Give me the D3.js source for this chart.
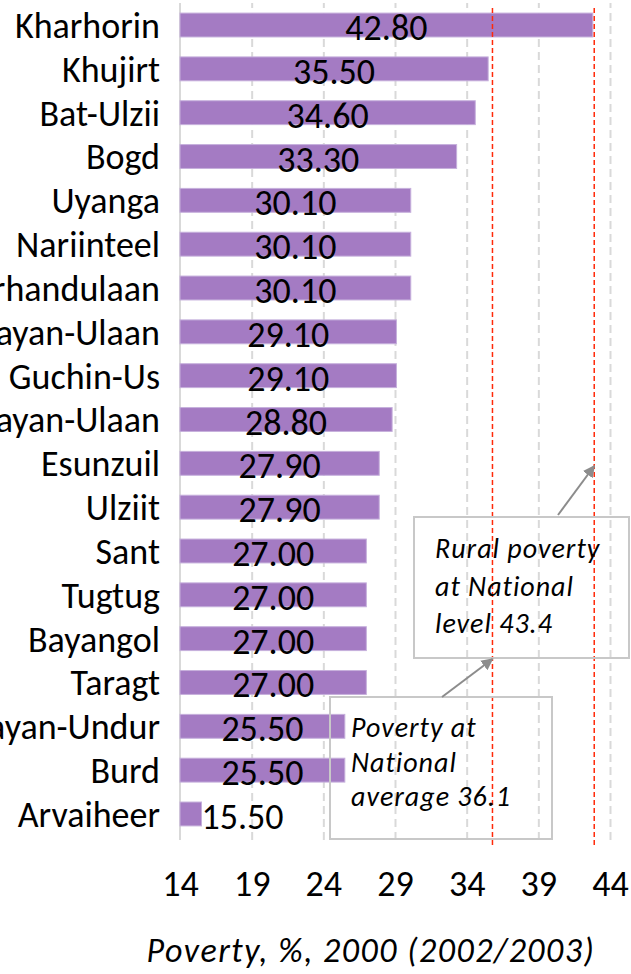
<!DOCTYPE html>
<html>
<head>
<meta charset="utf-8">
<script src="https://cdn.jsdelivr.net/npm/d3@7"></script>
<style>
  body { margin: 0; background: #fff; }
  svg { display: block; font-family: Carlito, Lato, sans-serif; }
</style>
</head>
<body>
<div id="content"></div>
<script>
var soums = ["Kharhorin", "Khujirt", "Bat-Ulzii", "Bogd", "Uyanga", "Nariinteel",
  "Khairhandulaan", "Zuunbayan-Ulaan", "Guchin-Us", "Baruunbayan-Ulaan", "Esunzuil",
  "Ulziit", "Sant", "Tugtug", "Bayangol", "Taragt", "Bayan-Undur", "Burd", "Arvaiheer"];
var poverty = [42.8, 35.5, 34.6, 33.3, 30.1, 30.1, 30.1, 29.1, 29.1, 28.8, 27.9,
  27.9, 27.0, 27.0, 27.0, 27.0, 25.5, 25.5, 15.5];
var xTicks = [14, 19, 24, 29, 34, 39, 44];
// reference lines, placed where the picture draws them
var refLines = [35.8, 42.9];
var notes = [
  ["Rural poverty", "at National", "level 43.4"],
  ["Poverty at", "National", "average 36.1"]
];

var W = 631, H = 974;
var plot = {l: 180, r: 610, t: 3, b: 836};
var fs = 36;

var svg = d3.select("#content").append("svg")
  .attr("width", W).attr("height", H);

var data = soums.map(function(d, i) { return {name: d, value: poverty[i]}; });

var x = d3.scaleLinear().domain([14, 44]).range([plot.l, plot.r]);
var y = d3.scaleBand().domain(soums).range([plot.t, plot.b])
  .paddingInner(0.455).paddingOuter(0.23);

// dashed grid
svg.append("g")
  .attr("transform", "translate(0," + (plot.b + 4) + ")")
  .call(d3.axisBottom(x).tickValues(xTicks.slice(1)).tickSize(-(plot.b + 4 - plot.t)).tickFormat(""))
  .call(function(g) {
    g.select(".domain").remove();
    g.selectAll("line").attr("stroke", "#d9d9d9").attr("stroke-width", 2).attr("stroke-dasharray", "8,5");
  });

// vertical axis line
svg.append("line")
  .attr("x1", x(14)).attr("x2", x(14))
  .attr("y1", plot.t).attr("y2", plot.b + 4)
  .attr("stroke", "#d9d9d9").attr("stroke-width", 2);

// bars
svg.append("g").selectAll("rect")
  .data(data).enter().append("rect")
  .attr("x", x(14))
  .attr("y", function(d) { return y(d.name); })
  .attr("width", function(d) { return x(d.value) - x(14); })
  .attr("height", y.bandwidth())
  .attr("fill", "#a47bc3")
  .attr("stroke", "#c6b0dc").attr("stroke-width", 1);

// value labels
svg.append("g").selectAll("text")
  .data(data).enter().append("text")
  .attr("x", function(d) {
    var w = x(d.value) - x(14);
    return w < 60 ? x(d.value) : (x(14) + x(d.value)) / 2;
  })
  .attr("text-anchor", function(d) { return x(d.value) - x(14) < 60 ? "start" : "middle"; })
  .attr("y", function(d) { return y(d.name) + y.bandwidth() / 2 + 15; })
  .attr("font-size", fs)
  .attr("fill", "#000")
  .text(function(d) { return d.value.toFixed(2); });

// category labels
svg.append("g")
  .attr("transform", "translate(" + (plot.l - 20) + ",0)")
  .call(d3.axisLeft(y).tickSize(0).tickPadding(0))
  .call(function(g) {
    g.select(".domain").remove();
    g.selectAll("text").attr("font-size", fs).attr("font-family", "Carlito, Lato, sans-serif")
      .attr("fill", "#000").attr("dy", "0.36em");
  });

// x tick labels
svg.append("g")
  .attr("transform", "translate(0,870)")
  .call(d3.axisBottom(x).tickValues(xTicks).tickSize(0).tickPadding(0))
  .call(function(g) {
    g.select(".domain").remove();
    g.selectAll("text").attr("font-size", fs).attr("font-family", "Carlito, Lato, sans-serif").attr("fill", "#000");
  });

// axis title
svg.append("text")
  .attr("x", 371).attr("y", 962)
  .attr("text-anchor", "middle")
  .attr("font-size", 34).attr("font-style", "italic")
  .attr("letter-spacing", 1.5)
  .text("Poverty, %, 2000 (2002/2003)");

// red reference lines
svg.append("g").selectAll("line")
  .data(refLines).enter().append("line")
  .attr("x1", function(d) { return x(d); }).attr("x2", function(d) { return x(d); })
  .attr("y1", 8).attr("y2", 846)
  .attr("stroke", "#ff2a0a").attr("stroke-width", 1.5).attr("stroke-dasharray", "5,3");

// annotation boxes
var defs = svg.append("defs");
defs.append("marker")
  .attr("id", "head").attr("viewBox", "0 0 10 10")
  .attr("refX", 9).attr("refY", 5)
  .attr("markerWidth", 6).attr("markerHeight", 6)
  .attr("orient", "auto")
  .append("path").attr("d", "M0,0L10,5L0,10z").attr("fill", "#8c8c8c");

var boxes = [
  {x: 414, y: 517, w: 215, h: 141, tx: 435, ty: [558, 596, 633], from: [558, 515], to: [x(refLines[1]), 466]},
  {x: 330, y: 697, w: 222, h: 142, tx: 351, ty: [737, 772, 806], from: [442, 697], to: [x(refLines[0]), 659]}
];

boxes.forEach(function(b, i) {
  svg.append("rect")
    .attr("x", b.x).attr("y", b.y).attr("width", b.w).attr("height", b.h)
    .attr("fill", "none").attr("stroke", "#c8c8c8").attr("stroke-width", 2);
  svg.append("line")
    .attr("x1", b.from[0]).attr("y1", b.from[1])
    .attr("x2", b.to[0]).attr("y2", b.to[1])
    .attr("stroke", "#8c8c8c").attr("stroke-width", 2)
    .attr("marker-end", "url(#head)");
  notes[i].forEach(function(t, j) {
    svg.append("text")
      .attr("x", b.tx).attr("y", b.ty[j])
      .attr("font-size", 28).attr("font-style", "italic")
      .attr("letter-spacing", 1)
      .text(t);
  });
});
</script>
</body>
</html>
